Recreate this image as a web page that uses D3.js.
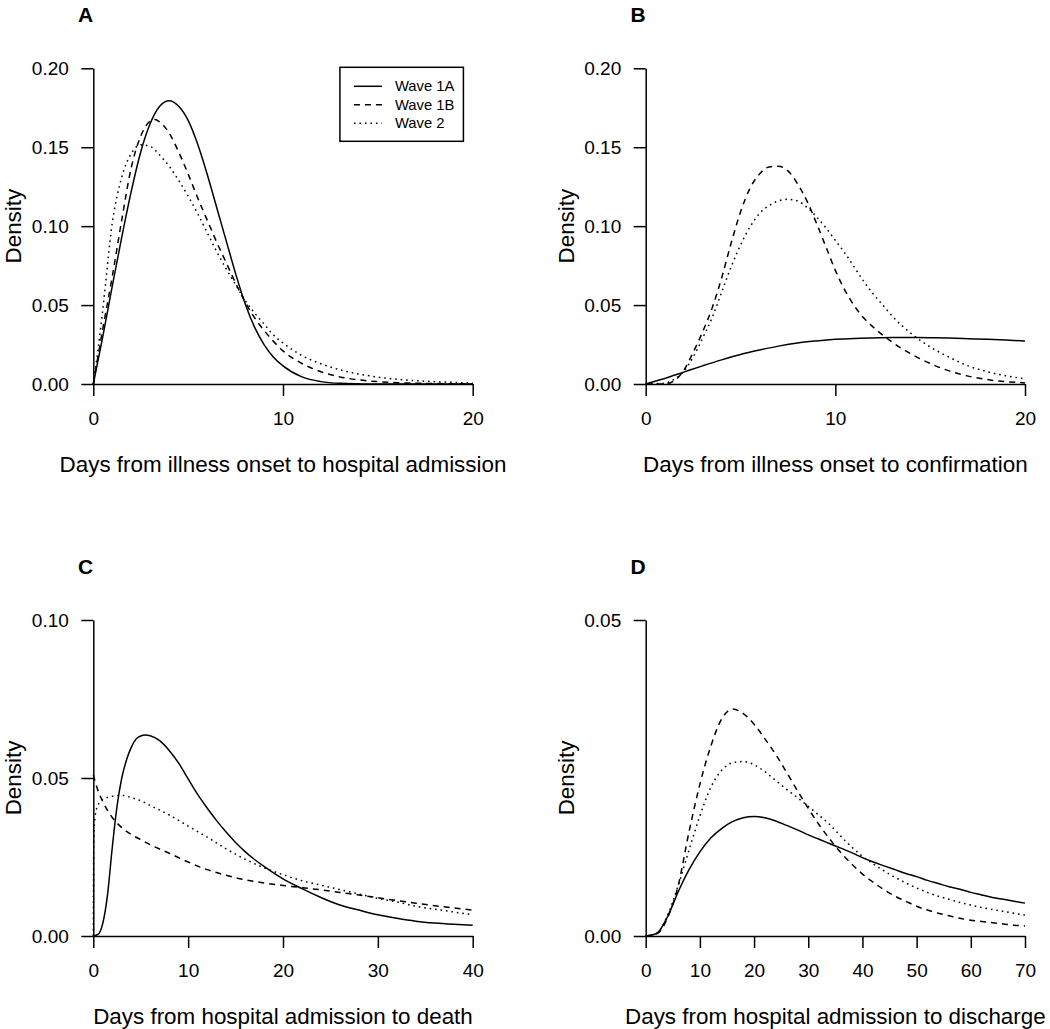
<!DOCTYPE html>
<html>
<head>
<meta charset="utf-8">
<script src="https://cdn.jsdelivr.net/npm/d3@7"></script>
<style>
  html, body { margin: 0; padding: 0; background: #fff; }
  svg { display: block; }
  text { font-family: "Liberation Sans", Arial, Helvetica, sans-serif; fill: #000; }
</style>
</head>
<body>
<div id="chart"></div>
<script>
// ---------------- DATA ----------------
const seriesNames = ["Wave 1A", "Wave 1B", "Wave 2"];
const panelLetters = ["A", "B", "C", "D"];
const xLabels = [
  "Days from illness onset to hospital admission",
  "Days from illness onset to confirmation",
  "Days from hospital admission to death",
  "Days from hospital admission to discharge"
];
const xTicksA = [0, 10, 20];
const xTicksB = [0, 10, 20];
const xTicksC = [0, 10, 20, 30, 40];
const xTicksD = [0, 10, 20, 30, 40, 50, 60, 70];
const yTicksA = [0, 0.05, 0.10, 0.15, 0.20];
const yTicksB = [0, 0.05, 0.10, 0.15, 0.20];
const yTicksC = [0, 0.05, 0.10];
const yTicksD = [0, 0.05];

// Panel A: illness onset -> hospital admission
const A_1A_days = [0,0.5,1,1.5,2,2.5,3,3.5,4,4.5,5,5.5,6,6.5,7,7.5,8,8.5,9,9.5,10,11,12,13,14,15,16,18,20];
const A_1A_dens = [0,0.03,0.062,0.093,0.122,0.147,0.165,0.176,0.1795,0.176,0.167,0.152,0.133,0.112,0.091,0.070,0.051,0.036,0.025,0.017,0.0115,0.0045,0.0015,0.0004,0.0001,0,0,0,0];
const A_1B_days = [0,0.5,1,1.5,2,2.5,3,3.25,3.5,4,4.5,5,5.5,6,6.5,7,7.5,8,8.5,9,9.5,10,11,12,13,14,15,16,17,18,20];
const A_1B_dens = [0,0.035,0.068,0.104,0.137,0.157,0.1665,0.1676,0.166,0.159,0.147,0.133,0.118,0.104,0.090,0.077,0.064,0.052,0.042,0.034,0.027,0.021,0.013,0.0078,0.0045,0.0026,0.0015,0.0008,0.0005,0.0003,0.0001];
const A_2_days = [0,0.25,0.5,1,1.5,2,2.5,3,3.5,4,4.5,5,5.5,6,6.5,7,7.5,8,8.5,9,9.5,10,11,12,13,14,15,16,17,18,19,20];
const A_2_dens = [0,0.022,0.047,0.102,0.131,0.146,0.1515,0.1505,0.145,0.138,0.129,0.119,0.108,0.096,0.084,0.073,0.063,0.053,0.045,0.038,0.031,0.026,0.018,0.0128,0.009,0.0063,0.0044,0.003,0.0021,0.0015,0.001,0.0007];

// Panel B: illness onset -> confirmation
const B_1A_days = [0,1,2,3,4,5,6,7,8,9,10,11,12,13,14,15,16,17,18,19,20];
const B_1A_dens = [0,0.0035,0.0075,0.0115,0.0153,0.0187,0.0215,0.024,0.026,0.0273,0.0283,0.0289,0.0292,0.0294,0.0294,0.0293,0.0291,0.0287,0.0283,0.0278,0.0272];
const B_1B_days = [0,1,1.5,2,2.5,3,3.5,4,4.5,5,5.5,6,6.5,7,7.5,8,8.5,9,9.5,10,10.5,11,11.5,12,12.5,13,13.5,14,15,16,17,18,19,20];
const B_1B_dens = [0,0,0.002,0.0085,0.02,0.033,0.048,0.067,0.089,0.109,0.124,0.133,0.1375,0.138,0.135,0.127,0.116,0.102,0.087,0.072,0.0595,0.0495,0.0418,0.036,0.031,0.0265,0.0225,0.019,0.013,0.0083,0.005,0.0028,0.0015,0.0007];
const B_2_days = [0,1,1.5,2,2.5,3,3.5,4,4.5,5,5.5,6,6.5,7,7.5,8,8.5,9,9.5,10,10.5,11,11.5,12,12.5,13,14,15,16,17,18,19,20];
const B_2_dens = [0,0.0005,0.003,0.008,0.017,0.029,0.042,0.058,0.074,0.088,0.0995,0.108,0.113,0.116,0.117,0.116,0.112,0.106,0.099,0.091,0.083,0.074,0.065,0.057,0.050,0.043,0.032,0.0235,0.017,0.0115,0.0078,0.0052,0.0033];

// Panel C: hospital admission -> death
const C_1A_days = [0,0.5,1,1.5,2,2.5,3,3.5,4,4.5,5,5.5,6,7,8,9,10,11,12,13,14,15,16,17,18,19,20,22,24,26,28,30,32,34,36,38,40];
const C_1A_dens = [0,0.0005,0.004,0.013,0.028,0.041,0.05,0.0557,0.0597,0.0623,0.0633,0.0636,0.0634,0.0618,0.0587,0.0547,0.0497,0.0448,0.0405,0.0365,0.0329,0.0296,0.0267,0.0242,0.022,0.02,0.0181,0.015,0.0122,0.0098,0.0082,0.0067,0.0056,0.0047,0.0041,0.0037,0.0034];
const C_1B_days = [0,0.5,1,2,3,4,5,6,8,10,12,14,16,18,20,22,24,26,28,30,32,34,36,38,40];
const C_1B_dens = [0.051,0.046,0.0425,0.0375,0.0343,0.0321,0.0305,0.0289,0.0262,0.0234,0.021,0.0192,0.0178,0.0168,0.016,0.0153,0.0146,0.0138,0.013,0.0121,0.0112,0.0104,0.0096,0.0089,0.0082];
const C_2_days = [0,0.05,0.2,0.5,1,2,3,4,5,6,8,10,12,14,16,18,20,22,24,26,28,30,32,34,36,38,40];
const C_2_dens = [0,0.03,0.038,0.0415,0.0432,0.0442,0.0445,0.0438,0.0428,0.0413,0.0383,0.0348,0.0313,0.0276,0.0243,0.0216,0.0194,0.0175,0.0161,0.0147,0.0133,0.0119,0.0108,0.0094,0.0085,0.0076,0.0067];

// Panel D: hospital admission -> discharge
const D_days = [0,2,4,6,8,10,12,14,16,18,20,22,24,26,28,30,32,34,36,38,40,42,44,46,48,50,52,54,56,58,60,62,64,66,68,70];
const D_1A_dens = [0,0.0004,0.003,0.007,0.0105,0.0133,0.0155,0.017,0.0181,0.0187,0.0189,0.0187,0.0182,0.0175,0.0168,0.016,0.0153,0.0146,0.0139,0.0132,0.0124,0.0117,0.0111,0.0105,0.0099,0.0094,0.0088,0.0083,0.0078,0.0074,0.0069,0.0065,0.0061,0.0058,0.0055,0.0052];
const D_1B_dens = [0,0.0003,0.0028,0.008,0.0165,0.024,0.030,0.0343,0.0359,0.0352,0.0335,0.0312,0.0287,0.0259,0.023,0.0202,0.0176,0.0153,0.0132,0.0114,0.0098,0.0085,0.0073,0.0063,0.0055,0.0047,0.0041,0.0036,0.0032,0.0028,0.0025,0.0023,0.0021,0.0019,0.0017,0.0016];
const D_2_dens = [0,0.0004,0.0032,0.008,0.0136,0.019,0.0235,0.0262,0.0274,0.0276,0.0271,0.026,0.0246,0.0232,0.0219,0.0205,0.0191,0.0176,0.0158,0.0141,0.0126,0.0114,0.0103,0.0093,0.0084,0.0076,0.0069,0.0063,0.0058,0.0053,0.0049,0.0045,0.0042,0.0039,0.0036,0.0033];

// ---------------- LAYOUT / STYLE ----------------
const W = 1050, H = 1029;
const dashes = [null, "6,5", "1.6,3.9"];
const zip = (xs, ys) => xs.map((x, i) => [x, ys[i]]);

const panels = [
  { letter: panelLetters[0], xlab: xLabels[0], xd: [0, 20], yd: [0, 0.2], xt: xTicksA, yt: yTicksA,
    left: 93.3, right: 472.7, top: 68.3, bottom: 384,
    series: [zip(A_1A_days, A_1A_dens), zip(A_1B_days, A_1B_dens), zip(A_2_days, A_2_dens)], legend: true },
  { letter: panelLetters[1], xlab: xLabels[1], xd: [0, 20], yd: [0, 0.2], xt: xTicksB, yt: yTicksB,
    left: 645.7, right: 1025, top: 68.3, bottom: 384,
    series: [zip(B_1A_days, B_1A_dens), zip(B_1B_days, B_1B_dens), zip(B_2_days, B_2_dens)] },
  { letter: panelLetters[2], xlab: xLabels[2], xd: [0, 40], yd: [0, 0.1], xt: xTicksC, yt: yTicksC,
    left: 93.3, right: 472.7, top: 620, bottom: 936,
    series: [zip(C_1A_days, C_1A_dens), zip(C_1B_days, C_1B_dens), zip(C_2_days, C_2_dens)] },
  { letter: panelLetters[3], xlab: xLabels[3], xd: [0, 70], yd: [0, 0.05], xt: xTicksD, yt: yTicksD,
    left: 645.7, right: 1025, top: 620, bottom: 936,
    series: [zip(D_days, D_1A_dens), zip(D_days, D_1B_dens), zip(D_days, D_2_dens)] }
];

const svg = d3.select("#chart").append("svg")
  .attr("width", W).attr("height", H)
  .attr("viewBox", `0 0 ${W} ${H}`);

const tickFont = "19px";
const labFont = "22.4px";

panels.forEach(p => {
  const x = d3.scaleLinear().domain(p.xd).range([p.left, p.right]);
  const y = d3.scaleLinear().domain(p.yd).range([p.bottom, p.top]);
  const g = svg.append("g");

  // curves
  const line = d3.line().x(d => x(d[0])).y(d => y(d[1])).curve(d3.curveMonotoneX);
  p.series.forEach((s, i) => {
    g.append("path").datum(s)
      .attr("d", line)
      .attr("fill", "none")
      .attr("stroke", "#000")
      .attr("stroke-width", 1.5)
      .attr("stroke-dasharray", dashes[i])
      .attr("stroke-linejoin", "round");
  });

  // axes
  const xa = g.append("g").attr("transform", `translate(0,${p.bottom})`)
    .call(d3.axisBottom(x).tickValues(p.xt).tickFormat(d3.format("d"))
      .tickSize(12).tickSizeOuter(0).tickPadding(15.5));
  const ya = g.append("g").attr("transform", `translate(${p.left},0)`)
    .call(d3.axisLeft(y).tickValues(p.yt).tickFormat(d3.format(".2f"))
      .tickSize(12).tickSizeOuter(0).tickPadding(12.5));
  [xa, ya].forEach(a => {
    a.selectAll("path, line").attr("stroke", "#000").attr("stroke-width", 1.5);
    a.selectAll("text").style("font-size", tickFont)
      .style("font-family", '"Liberation Sans", Arial, sans-serif').attr("fill", "#000");
  });

  // x label
  g.append("text")
    .attr("x", (p.left + p.right) / 2)
    .attr("y", p.bottom + 87.5)
    .attr("text-anchor", "middle")
    .style("font-size", labFont)
    .text(p.xlab);

  // y label
  g.append("text")
    .attr("transform", `translate(${p.left - 72},${(p.top + p.bottom) / 2}) rotate(-90)`)
    .attr("text-anchor", "middle")
    .style("font-size", labFont)
    .text("Density");

  // panel letter
  g.append("text")
    .attr("x", p.left - 15.2)
    .attr("y", p.top - 46.5)
    .style("font-size", "21px")
    .style("font-weight", "bold")
    .text(p.letter);

  // legend
  if (p.legend) {
    const lx = x(13), ly = y(0.2) - 1;
    const lg = g.append("g");
    lg.append("rect")
      .attr("x", lx).attr("y", ly)
      .attr("width", 123.5).attr("height", 74)
      .attr("fill", "#fff").attr("stroke", "#000").attr("stroke-width", 1.5);
    seriesNames.forEach((name, i) => {
      const ry = ly + 19 + i * 18.5;
      lg.append("line")
        .attr("x1", lx + 14).attr("x2", lx + 42)
        .attr("y1", ry).attr("y2", ry)
        .attr("stroke", "#000").attr("stroke-width", 1.5)
        .attr("stroke-dasharray", dashes[i]);
      lg.append("text")
        .attr("x", lx + 55).attr("y", ry)
        .attr("dy", "0.35em")
        .style("font-size", "14.8px")
        .text(name);
    });
  }
});
</script>
</body>
</html>
